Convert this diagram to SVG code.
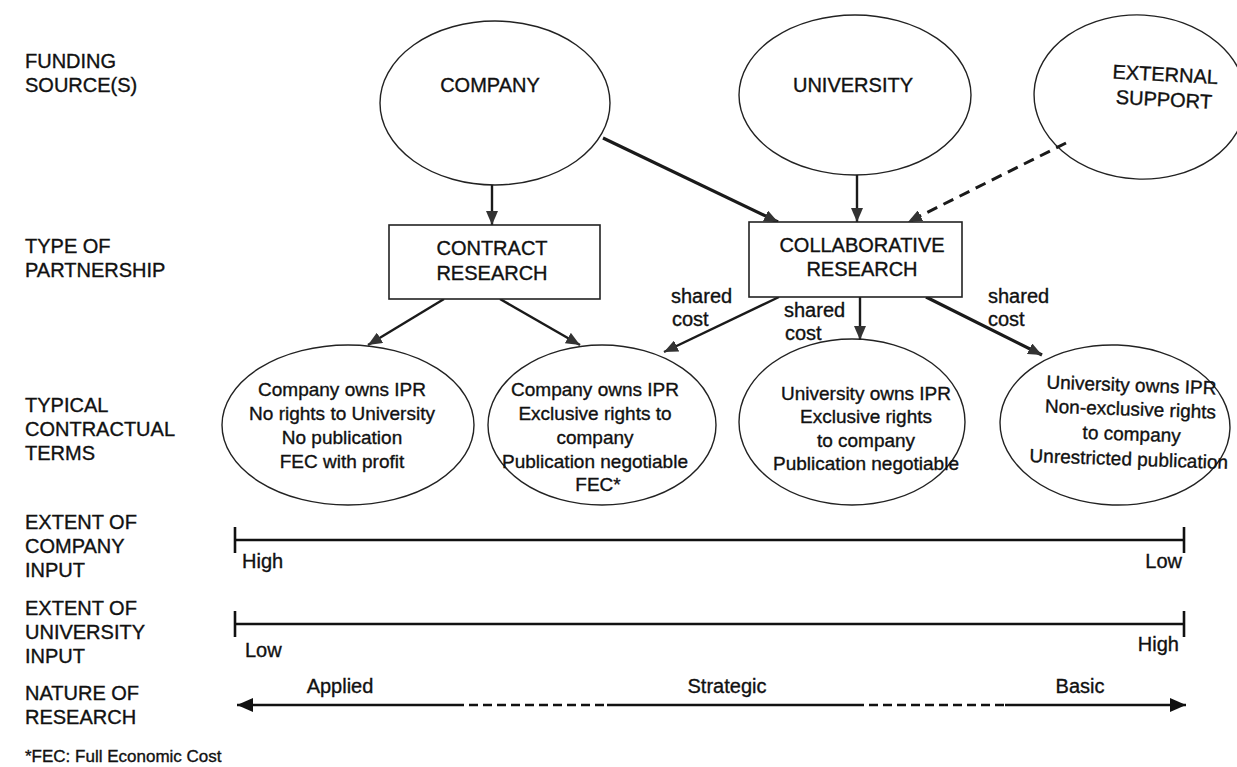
<svg xmlns="http://www.w3.org/2000/svg" width="1237" height="767" viewBox="0 0 1237 767">
<style>
text{font-family:"Liberation Sans",Arial,Helvetica,sans-serif;fill:#111;stroke:#111;stroke-width:0.35}
.lab{font-size:20px}
.cap{font-size:20px;text-anchor:middle}
.t{font-size:19px;text-anchor:middle}
.sc{font-size:20px}
.el{fill:none;stroke:#222;stroke-width:1.4}
.bx{fill:#fff;stroke:#222;stroke-width:1.6}
.cn{stroke:#1a1a1a;stroke-width:2.4;fill:none}
.thick{stroke-width:3.2}
.dash{stroke-dasharray:11 7;stroke-width:3}
.axis{stroke:#111;stroke-width:2.6;fill:none}
.ad{stroke-dasharray:9 5}
</style>
<defs>
<marker id="ah" viewBox="0 0 14 12" refX="14" refY="6" markerWidth="14" markerHeight="12" orient="auto" markerUnits="userSpaceOnUse"><path d="M0,0 L14,6 L0,12 z" fill="#333"/></marker>
<marker id="ahb" viewBox="0 0 16 14" refX="16" refY="7" markerWidth="16" markerHeight="14" orient="auto" markerUnits="userSpaceOnUse"><path d="M0,0 L16,7 L0,14 z" fill="#111"/></marker>
</defs>
<rect width="1237" height="767" fill="#fff"/>

<g id="row-labels">
<text class="lab" x="25" y="68">FUNDING</text>
<text class="lab" x="25" y="92">SOURCE(S)</text>
<text class="lab" x="25" y="253">TYPE OF</text>
<text class="lab" x="25" y="277">PARTNERSHIP</text>
<text class="lab" x="25" y="412">TYPICAL</text>
<text class="lab" x="25" y="436">CONTRACTUAL</text>
<text class="lab" x="25" y="460">TERMS</text>
<text class="lab" x="25" y="529">EXTENT OF</text>
<text class="lab" x="25" y="553">COMPANY</text>
<text class="lab" x="25" y="577">INPUT</text>
<text class="lab" x="25" y="615">EXTENT OF</text>
<text class="lab" x="25" y="639">UNIVERSITY</text>
<text class="lab" x="25" y="663">INPUT</text>
<text class="lab" x="25" y="700">NATURE OF</text>
<text class="lab" x="25" y="724">RESEARCH</text>
<text x="25" y="762" style="font-size:17px">*FEC: Full Economic Cost</text>
</g>

<g id="company">
<ellipse class="el" cx="495" cy="103" rx="115" ry="82"/>
<text class="cap" x="490" y="92">COMPANY</text>
</g>
<g id="university">
<ellipse class="el" cx="855" cy="95" rx="116" ry="80"/>
<text class="cap" x="853" y="92">UNIVERSITY</text>
</g>
<g id="external-support" transform="rotate(3 1140 97)">
<ellipse class="el" cx="1140" cy="97" rx="106" ry="82"/>
<text class="cap" x="1164" y="80">EXTERNAL</text>
<text class="cap" x="1164" y="105">SUPPORT</text>
</g>

<g id="connectors">
<line class="cn" x1="492" y1="185" x2="492" y2="225" marker-end="url(#ah)"/>
<line class="cn thick" x1="603" y1="138" x2="778" y2="222" marker-end="url(#ah)"/>
<line class="cn" x1="857" y1="175" x2="857" y2="222" marker-end="url(#ah)"/>
<line class="cn dash" x1="1066" y1="143" x2="908" y2="222" marker-end="url(#ah)"/>
<line class="cn" x1="444" y1="299" x2="368" y2="345" marker-end="url(#ah)"/>
<line class="cn" x1="500" y1="299" x2="580" y2="345" marker-end="url(#ah)"/>
<line class="cn" x1="779" y1="297" x2="664" y2="352" marker-end="url(#ah)"/>
<line class="cn" x1="860" y1="297" x2="860" y2="340" marker-end="url(#ah)"/>
<line class="cn thick" x1="926" y1="297" x2="1042" y2="355" marker-end="url(#ah)"/>
<text class="sc" x="671" y="303">shared</text>
<text class="sc" x="672" y="326">cost</text>
<text class="sc" x="784" y="317">shared</text>
<text class="sc" x="785" y="340">cost</text>
<text class="sc" x="988" y="303">shared</text>
<text class="sc" x="988" y="326">cost</text>
</g>

<g id="contract-research">
<rect class="bx" x="389" y="225" width="211" height="74"/>
<text class="cap" x="492" y="255">CONTRACT</text>
<text class="cap" x="492" y="280">RESEARCH</text>
</g>
<g id="collaborative-research">
<rect class="bx" x="749" y="222" width="213" height="75"/>
<text class="cap" x="862" y="252">COLLABORATIVE</text>
<text class="cap" x="862" y="276">RESEARCH</text>
</g>

<g id="terms-a">
<ellipse class="el" cx="348" cy="425" rx="126" ry="80"/>
<text class="t" x="342" y="396">Company owns IPR</text>
<text class="t" x="342" y="420">No rights to University</text>
<text class="t" x="342" y="444">No publication</text>
<text class="t" x="342" y="468">FEC with profit</text>
</g>
<g id="terms-b">
<ellipse class="el" cx="602" cy="425" rx="114" ry="80"/>
<text class="t" x="595" y="396">Company owns IPR</text>
<text class="t" x="595" y="420">Exclusive rights to</text>
<text class="t" x="595" y="444">company</text>
<text class="t" x="595" y="468">Publication negotiable</text>
<text class="t" x="598" y="491">FEC*</text>
</g>
<g id="terms-c">
<ellipse class="el" cx="852" cy="422" rx="113" ry="83"/>
<text class="t" x="866" y="400">University owns IPR</text>
<text class="t" x="866" y="423">Exclusive rights</text>
<text class="t" x="866" y="447">to company</text>
<text class="t" x="866" y="470">Publication negotiable</text>
</g>
<g id="terms-d" transform="rotate(2 1115 425)">
<ellipse class="el" cx="1115" cy="425" rx="115" ry="80"/>
<text class="t" x="1130" y="391">University owns IPR</text>
<text class="t" x="1130" y="415">Non-exclusive rights</text>
<text class="t" x="1132" y="440">to company</text>
<text class="t" x="1130" y="465">Unrestricted publication</text>
</g>

<g id="company-input-scale">
<line class="axis" x1="235" y1="540" x2="1184" y2="540"/>
<line class="axis" x1="235" y1="527" x2="235" y2="553"/>
<line class="axis" x1="1184" y1="527" x2="1184" y2="553"/>
<text class="sc" x="242" y="568">High</text>
<text class="sc" x="1182" y="568" text-anchor="end">Low</text>
</g>
<g id="university-input-scale">
<line class="axis" x1="235" y1="624" x2="1184" y2="624"/>
<line class="axis" x1="235" y1="611" x2="235" y2="637"/>
<line class="axis" x1="1184" y1="611" x2="1184" y2="637"/>
<text class="sc" x="245" y="657">Low</text>
<text class="sc" x="1179" y="651" text-anchor="end">High</text>
</g>
<g id="nature-of-research">
<line class="axis" x1="455" y1="705" x2="237" y2="705" marker-end="url(#ahb)"/>
<line class="axis ad" x1="455" y1="705" x2="607" y2="705"/>
<line class="axis" x1="607" y1="705" x2="855" y2="705"/>
<line class="axis ad" x1="855" y1="705" x2="1005" y2="705"/>
<line class="axis" x1="1005" y1="705" x2="1186" y2="705" marker-end="url(#ahb)"/>
<text class="sc" x="340" y="693" text-anchor="middle">Applied</text>
<text class="sc" x="727" y="693" text-anchor="middle">Strategic</text>
<text class="sc" x="1080" y="693" text-anchor="middle">Basic</text>
</g>
</svg>
